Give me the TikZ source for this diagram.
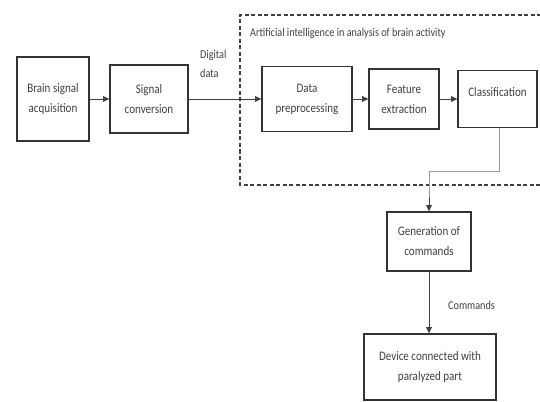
\documentclass[tikz,border=0pt]{standalone}
\usepackage{fontspec}
\setmainfont{Carlito}[FakeStretch=0.85]
\usepackage{tikz}
\usetikzlibrary{positioning,arrows.meta,calc}

\begin{document}
\begin{tikzpicture}[
  x=1pt, y=-1pt,
  blk/.style={draw=black!80, line width=1.3pt, align=center, inner sep=2pt,
              font=\fontsize{13}{20}\selectfont, text=black!75},
  lbl/.style={font=\fontsize{12}{19}\selectfont, text=black!75, inner sep=0pt},
  arr/.style={-{Triangle[length=2.2mm,width=2mm]}, line width=0.8pt, black!75},
  link/.style={line width=1pt, black!40},
  aibox/.style={black!75, line width=1.3pt, dash pattern=on 4pt off 2.5pt},
]
  \useasboundingbox (0,0) rectangle (540,401);

  % boxes
  \node[blk, minimum width=72pt, minimum height=84pt] (acq) at (53,99) {Brain signal\\acquisition};
  \node[blk, minimum width=78pt, minimum height=68pt] (conv) at (149,99) {Signal\\conversion};
  \node[blk, minimum width=90pt, minimum height=65pt] (prep) at (307,99) {Data\\preprocessing};
  \node[blk, minimum width=70pt, minimum height=60pt] (feat) at (404,99) {Feature\\extraction};
  \node[blk, minimum width=79pt, minimum height=57pt, text depth=14pt] (cls) at (497.5,99) {Classification};
  \node[blk, minimum width=84pt, minimum height=59pt] (gen) at (429,241.5) {Generation of\\commands};
  \node[blk, minimum width=132pt, minimum height=66pt] (dev) at (430,367) {Device connected with\\paralyzed part};

  % AI part
  \draw[aibox] (541,15) -- (240,15) -- (240,185) -- (541,185);
  \node[lbl, anchor=west] (ai) at (250,33) {Artificial intelligence in analysis of brain activity};

  % labels
  \node[lbl, align=left, anchor=north west] (dig) at (200,50) {Digital\\data};
  \node[lbl, anchor=west] (cmd) at (448,305) {Commands};

  % connectors
  \draw[arr] (acq) -- (conv);
  \draw[arr] (conv) -- (prep);
  \draw[arr] (prep) -- (feat);
  \draw[arr] (feat) -- (cls);
  \coordinate (bend) at (499,171);
  \draw[link] (cls.south -| bend) -- (bend) -- (bend -| gen.north) -- ($(gen.north)+(0,-12)$);
  \draw[arr] ($(gen.north)+(0,-14)$) -- (gen.north);
  \draw[arr] (gen) -- (gen |- dev.north);
\end{tikzpicture}
\end{document}
